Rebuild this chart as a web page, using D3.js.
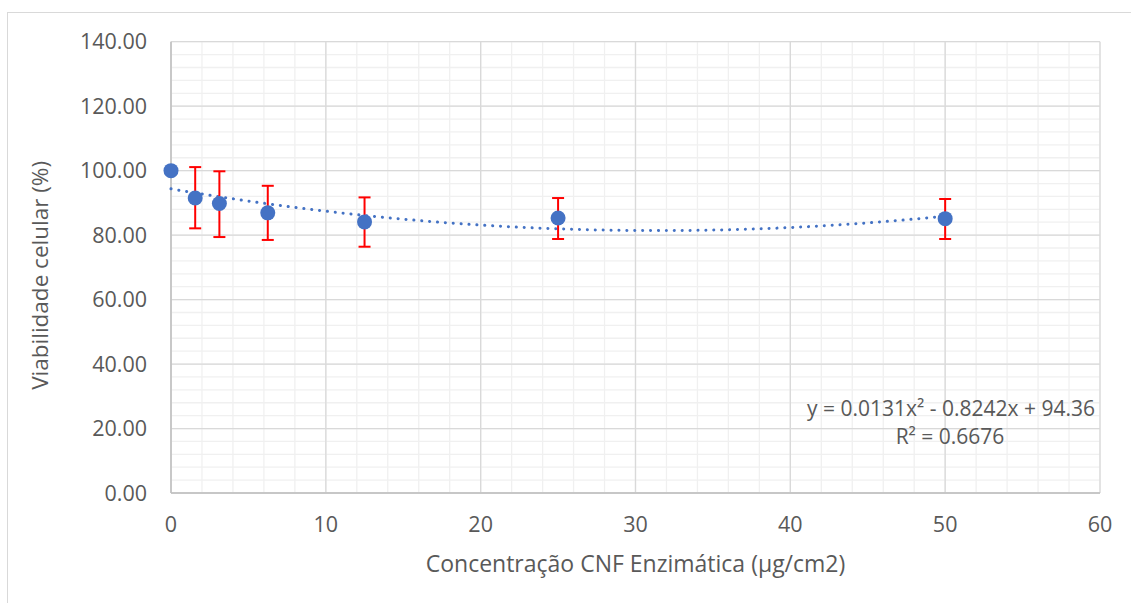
<!DOCTYPE html>
<html>
<head>
<meta charset="utf-8">
<script src="https://cdn.jsdelivr.net/npm/d3@7"></script>
<style>
  html, body { margin: 0; padding: 0; background: #fff; }
  svg { display: block; font-family: "Open Sans", "Noto Sans", sans-serif; }
</style>
</head>
<body>
<svg id="chart" width="1131" height="603"></svg>
<script>
// Cell viability vs. enzymatic CNF concentration
const concentrations = [0, 1.5625, 3.125, 6.25, 12.5, 25, 50];
const viability      = [100, 91.5, 89.8, 86.9, 84.1, 85.3, 85.1];
const errUpper       = [null, 101.1, 99.8, 95.3, 91.7, 91.5, 91.2];
const errLower       = [null, 82.1, 79.4, 78.5, 76.4, 78.8, 78.8];
const xTicks = [0, 10, 20, 30, 40, 50, 60];
const yTicks = [0, 20, 40, 60, 80, 100, 120, 140];
// polynomial trend (order 2) coefficients
const trendCoef = [94.36, -0.8242, 0.0131];
const trendLabel = "y = 0.0131x² - 0.8242x + 94.36";
const r2Label = "R² = 0.6676";

const svg = d3.select("#chart");
const W = 1131, H = 603;
const plot = { left: 171, top: 41.7, right: 1100, bottom: 493 };

const x = d3.scaleLinear().domain([0, 60]).range([plot.left, plot.right]);
const y = d3.scaleLinear().domain([0, 140]).range([plot.bottom, plot.top]);

const textColor = "#595959";

// outer chart frame
svg.append("rect")
  .attr("x", 7.5).attr("y", 12.5).attr("width", W).attr("height", H)
  .attr("fill", "none").attr("stroke", "#d9d9d9").attr("stroke-width", 1);

// minor grid
const g = svg.append("g");
const xMinor = d3.range(0, 60.001, 2);
const yMinor = d3.range(0, 140.001, 4);
g.selectAll(".xminor").data(xMinor).join("line")
  .attr("x1", d => x(d)).attr("x2", d => x(d))
  .attr("y1", plot.top).attr("y2", plot.bottom)
  .attr("stroke", "#f0f0f0").attr("stroke-width", 1.3);
g.selectAll(".yminor").data(yMinor).join("line")
  .attr("x1", plot.left).attr("x2", plot.right)
  .attr("y1", d => y(d)).attr("y2", d => y(d))
  .attr("stroke", "#f0f0f0").attr("stroke-width", 1.3);
// major grid
g.selectAll(".xmajor").data(xTicks).join("line")
  .attr("x1", d => x(d)).attr("x2", d => x(d))
  .attr("y1", plot.top).attr("y2", plot.bottom)
  .attr("stroke", "#d9d9d9").attr("stroke-width", 1.3);
g.selectAll(".ymajor").data(yTicks).join("line")
  .attr("x1", plot.left).attr("x2", plot.right)
  .attr("y1", d => y(d)).attr("y2", d => y(d))
  .attr("stroke", "#d9d9d9").attr("stroke-width", 1.3);

// axis lines
svg.append("line").attr("x1", plot.left).attr("x2", plot.left)
  .attr("y1", plot.top).attr("y2", plot.bottom).attr("stroke", "#bfbfbf").attr("stroke-width", 1.5);
svg.append("line").attr("x1", plot.left).attr("x2", plot.right)
  .attr("y1", plot.bottom).attr("y2", plot.bottom).attr("stroke", "#bfbfbf").attr("stroke-width", 1.5);

// tick labels
svg.append("g").selectAll("text").data(yTicks).join("text")
  .attr("x", 147).attr("y", d => y(d)).attr("dy", "0.36em")
  .attr("text-anchor", "end").attr("font-size", 21.5).attr("fill", textColor)
  .text(d => d3.format(".2f")(d));
svg.append("g").selectAll("text").data(xTicks).join("text")
  .attr("x", d => x(d)).attr("y", 524).attr("dy", "0.36em")
  .attr("text-anchor", "middle").attr("font-size", 21.5).attr("fill", textColor)
  .text(d => d);

// axis titles
svg.append("text")
  .attr("transform", `translate(40,${(plot.top + plot.bottom) / 2 + 8}) rotate(-90)`)
  .attr("dy", "0.36em").attr("text-anchor", "middle")
  .attr("font-size", 22.5).attr("fill", textColor)
  .text("Viabilidade celular (%)");
svg.append("text")
  .attr("x", (plot.left + plot.right) / 2).attr("y", 564).attr("dy", "0.36em")
  .attr("text-anchor", "middle").attr("font-size", 23).attr("fill", textColor)
  .text("Concentração CNF Enzimática (µg/cm2)");

// trendline
const trend = d3.range(0, 50.001, 0.25).map(v => [v, trendCoef[0] + trendCoef[1] * v + trendCoef[2] * v * v]);
svg.append("path")
  .datum(trend)
  .attr("d", d3.line().x(d => x(d[0])).y(d => y(d[1])))
  .attr("fill", "none").attr("stroke", "#4472c4").attr("stroke-width", 3)
  .attr("stroke-linecap", "round").attr("stroke-dasharray", "0.1 7.8");

// error bars
const pts = concentrations.map((c, i) => ({ c, v: viability[i], hi: errUpper[i], lo: errLower[i] }));
const eb = svg.append("g").attr("stroke", "#ff0000").attr("stroke-width", 2);
pts.filter(d => d.hi != null).forEach(d => {
  eb.append("line").attr("x1", x(d.c)).attr("x2", x(d.c)).attr("y1", y(d.hi)).attr("y2", y(d.lo));
  eb.append("line").attr("x1", x(d.c) - 6).attr("x2", x(d.c) + 6).attr("y1", y(d.hi)).attr("y2", y(d.hi));
  eb.append("line").attr("x1", x(d.c) - 6).attr("x2", x(d.c) + 6).attr("y1", y(d.lo)).attr("y2", y(d.lo));
});

// markers
svg.append("g").selectAll("circle").data(pts).join("circle")
  .attr("cx", d => x(d.c)).attr("cy", d => y(d.v)).attr("r", 7.5)
  .attr("fill", "#4472c4");

// trend equation
svg.append("text").attr("x", 1095).attr("y", 408).attr("dy", "0.36em")
  .attr("text-anchor", "end").attr("font-size", 21).attr("fill", textColor)
  .text(trendLabel);
svg.append("text").attr("x", 950).attr("y", 436).attr("dy", "0.36em")
  .attr("text-anchor", "middle").attr("font-size", 21).attr("fill", textColor)
  .text(r2Label);
</script>
</body>
</html>
